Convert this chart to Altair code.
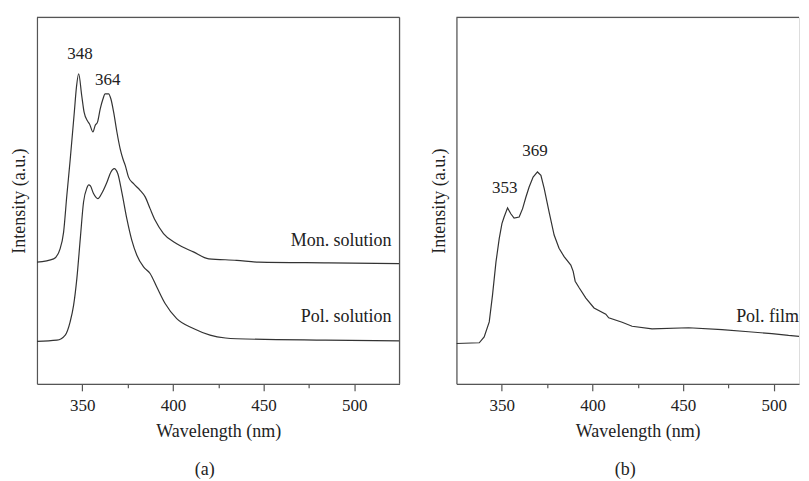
import altair as alt
import pandas as pd

# ---------------- data ----------------
mon_wl = [325, 334.2, 337.8, 339.7, 341.5, 343.3, 345.6, 346.8, 348.0, 349.7, 351.0, 352.9, 354.0,
          355.9, 357.1, 358.4, 359.9, 361.4, 362.6, 364.5, 365.8, 367.3, 369.1, 370.9, 372.4, 373.7,
          375.5, 378.3, 381.9, 384.7, 387.4, 390.2, 394.8, 402.1, 411.3, 419.8, 435.2, 447.3, 485.9, 525]
mon_int = [33.2, 34.1, 36.9, 41.4, 51.5, 61.0, 74.1, 81.0, 84.6, 78.6, 74.1, 71.7, 70.9,
           68.7, 70.5, 71.4, 75.0, 77.7, 79.1, 79.1, 77.7, 74.1, 68.7, 64.1, 61.4, 59.6,
           56.4, 54.6, 52.8, 51.0, 47.8, 44.6, 41.0, 38.2, 36.0, 34.1, 33.7, 33.2, 33.0, 32.8]

pol_wl = [325, 336.0, 340.6, 343.3, 345.2, 347.0, 348.9, 350.7, 352.6, 353.5, 354.5, 356.2, 358.6,
          361.0, 363.6, 365.8, 367.6, 369.6, 371.8, 374.6, 377.3, 380.1, 383.8, 387.4, 391.1, 395.7,
          402.1, 411.3, 420.5, 429.0, 435.2, 484.1, 525]
pol_int = [11.6, 11.9, 13.3, 16.9, 21.4, 28.7, 39.6, 49.6, 53.5, 54.3, 54.0, 51.9, 50.5,
           52.2, 55.0, 57.8, 58.7, 57.3, 52.3, 45.0, 39.2, 35.1, 31.9, 30.1, 26.4, 21.9,
           17.8, 15.1, 13.3, 12.5, 12.3, 11.9, 11.7]

film_wl = [325.0, 337.6, 340.3, 343.1, 344.9, 346.8, 348.6, 350.1, 351.3, 353.2, 355.0, 356.8, 359.6,
           361.5, 363.3, 365.1, 367.3, 369.7, 371.6, 373.4, 376.1, 378.9, 381.6, 384.4, 388.1, 389.4,
           390.5, 392.7, 396.4, 400.9, 407.4, 409.0, 416.4, 421.9, 432.9, 453.1, 471.5, 486.2, 499.0,
           508.2, 518.3, 524.7]
film_int = [11.0, 11.2, 12.8, 16.9, 24.2, 33.2, 39.6, 43.7, 45.5, 48.0, 46.4, 45.2, 45.5,
            47.8, 50.9, 53.7, 56.4, 57.8, 56.9, 53.3, 46.9, 40.6, 37.0, 34.7, 32.4, 30.7,
            28.0, 26.2, 23.4, 20.7, 19.0, 18.0, 16.8, 15.7, 15.0, 15.3, 14.8, 14.2, 13.7,
            13.2, 12.8, 12.5]

# annotations (text, wavelength, intensity)
a_peak_text = ["348", "364"]
a_peak_wl = [348.7, 364.1]
a_peak_int = [90.0, 82.9]
a_name_text = ["Mon. solution", "Pol. solution"]
a_name_wl = [520.6, 520.6]
a_name_int = [39.0, 18.3]

b_peak_text = ["353", "369"]
b_peak_wl = [351.6, 368.3]
b_peak_int = [53.3, 63.4]
b_name_text = ["Pol. film"]
b_name_wl = [514.0]
b_name_int = [18.3]

major_ticks = [350, 400, 450, 500]
all_ticks = [350, 375, 400, 425, 450, 475, 500]

# ---------------- styling ----------------
FONT = "Liberation Serif"
FS_NUM = 17
FS_TXT = 18
LINE = "#333333"
FRAME = "#555555"
TXT = "#222222"
W1, W2, H = 363, 343, 367
X0, X1 = 325, 525
X1_B = X0 + W2 * (X1 - X0) / W1  # same nm-per-pixel as panel (a)


def x_enc(xmax):
    return alt.X(
        "wl:Q",
        scale=alt.Scale(domain=[X0, xmax], nice=False, zero=False),
        axis=alt.Axis(
            values=all_ticks,
            labelExpr="indexof([350,400,450,500], datum.value) >= 0 ? datum.label : ''",
            tickSize={"condition": {"test": "datum.value % 50 === 0", "value": 7}, "value": 4},
            tickColor=FRAME, tickWidth=1.2, domainColor=FRAME, domainWidth=1.2,
            labelFont=FONT, labelFontSize=FS_NUM, labelColor=TXT, labelPadding=7,
            title="Wavelength (nm)", titleFont=FONT, titleFontSize=FS_TXT, titleFontWeight="normal",
            titleColor=TXT, titlePadding=9, titleX=W1 / 2, titleAlign="center",
            grid=False, labelFlush=False,
        ),
    )


def y_enc():
    return alt.Y(
        "int:Q",
        scale=alt.Scale(domain=[0, 100], nice=False),
        axis=alt.Axis(
            ticks=False, labels=False, grid=False, domainColor=FRAME, domainWidth=1.2,
            minExtent=0, maxExtent=0,
            title="Intensity (a.u.)", titleFont=FONT, titleFontSize=FS_TXT, titleFontWeight="normal",
            titleColor=TXT, titlePadding=8.4,
        ),
    )


def line_layer(wl, it, xmax, interp):
    df = pd.DataFrame({"wl": wl, "int": it})
    return alt.Chart(df).mark_line(color=LINE, strokeWidth=1.2, interpolate=interp, clip=True).encode(
        x=x_enc(xmax), y=y_enc()
    )


def text_layer(texts, wl, it, align, fs):
    df = pd.DataFrame({"t": texts, "wl": wl, "int": it})
    return alt.Chart(df).mark_text(font=FONT, fontSize=fs, color=TXT, align=align, baseline="middle").encode(
        x="wl:Q", y="int:Q", text="t:N"
    )


dummy = pd.DataFrame({"k": [0]})


def rule_h(width):
    return alt.Chart(dummy).mark_rule(color=FRAME, strokeWidth=1.2).encode(
        x=alt.value(0), x2=alt.value(width), y=alt.value(0)
    )


def rule_v(xpos):
    return alt.Chart(dummy).mark_rule(color=FRAME, strokeWidth=1.2).encode(
        x=alt.value(xpos), y=alt.value(0), y2=alt.value(H)
    )


def ptitle(t, dx=0):
    return alt.TitleParams(t, orient="bottom", font=FONT, fontSize=FS_TXT, fontWeight="normal",
                           color=TXT, offset=20, dx=dx)


panel_a = alt.layer(
    line_layer(mon_wl, mon_int, X1, "monotone"),
    line_layer(pol_wl, pol_int, X1, "monotone"),
    text_layer(a_peak_text, a_peak_wl, a_peak_int, "center", FS_NUM),
    text_layer(a_name_text, a_name_wl, a_name_int, "right", FS_TXT),
    rule_h(W1),
    rule_v(W1),
).properties(width=W1, height=H, title=ptitle("(a)", dx=-13.5))

panel_b = alt.layer(
    line_layer(film_wl, film_int, X1_B, "linear"),
    text_layer(b_peak_text, b_peak_wl, b_peak_int, "center", FS_NUM),
    text_layer(b_name_text, b_name_wl, b_name_int, "right", FS_TXT),
    rule_h(W2),
).properties(width=W2, height=H, title=ptitle("(b)", dx=-2.5))

chart = (
    alt.hconcat(panel_a, panel_b, spacing=28)
    .properties(padding={"left": 2, "top": 7, "right": 0, "bottom": 0})
    .configure_view(strokeWidth=0)
    .configure(background="white")
)

chart.save("out.html", embed_options={"renderer": "svg", "actions": False})
